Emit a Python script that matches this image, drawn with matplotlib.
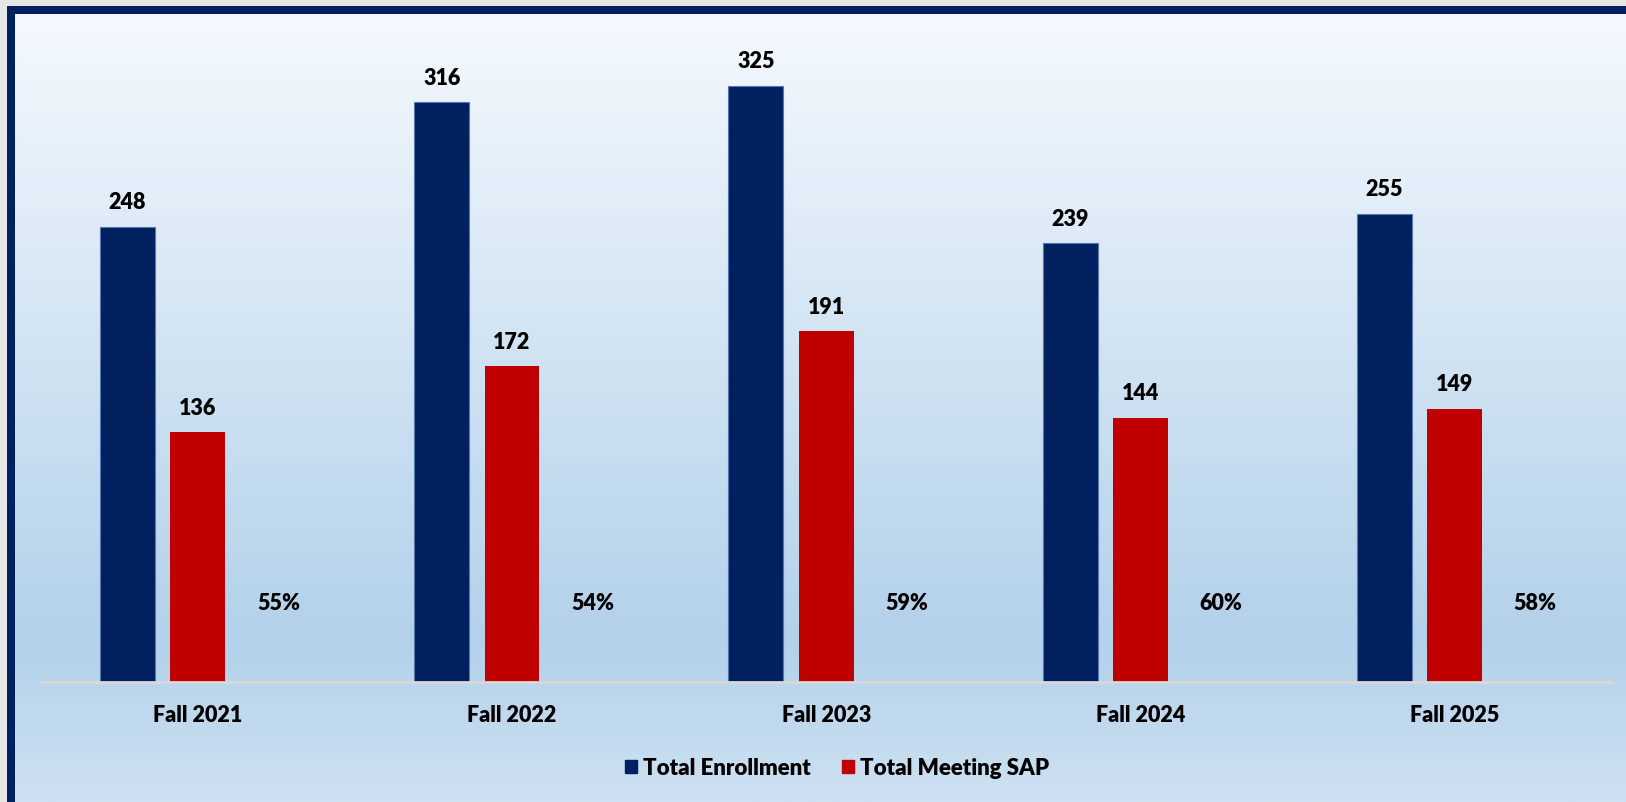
import numpy as np
import matplotlib
matplotlib.use("Agg")
import matplotlib.pyplot as plt
from matplotlib.patches import Rectangle, Patch

# data
terms = ["Fall 2021", "Fall 2022", "Fall 2023", "Fall 2024", "Fall 2025"]
total_enrollment = [248, 316, 325, 239, 255]
total_meeting_sap = [136, 172, 191, 144, 149]
pct_meeting = ["55%", "54%", "59%", "60%", "58%"]

navy = "#002060"
red = "#c00000"
wt = "heavy"

plt.rcParams["font.family"] = ["Lato", "DejaVu Sans"]
plt.rcParams["font.weight"] = wt

W, H = 1626, 803
fig = plt.figure(figsize=(W / 100, H / 100), dpi=100)
fig.patch.set_facecolor("#e6e6e6")

# gradient background
bg = fig.add_axes([0, 0, 1, 1], zorder=-10)
bg.set_axis_off()
t = np.linspace(0, 1, 400)
stops = [0.0, 0.8, 1.0]
cols = np.array([[246, 250, 254], [179, 209, 234], [206, 225, 242]]) / 255.0
grad = np.stack([np.interp(t, stops, cols[:, k]) for k in range(3)], axis=1)
img = np.repeat(grad[:, None, :], 2, axis=1)
bg.imshow(img, aspect="auto", extent=[0, 1, 0, 1], origin="upper")
bg.set_xlim(0, 1)
bg.set_ylim(0, 1)
# grey outer strip and navy frame at the top / left
bg.add_patch(Rectangle((0, 1 - 7 / H), 1, 7 / H, color="#e6e6e6", lw=0))
bg.add_patch(Rectangle((0, 0), 7 / W, 1, color="#e6e6e6", lw=0))
bg.add_patch(Rectangle((7 / W, 1 - 15 / H), 1, 8 / H, color=navy, lw=0))
bg.add_patch(Rectangle((7 / W, 0), 8 / W, 1 - 7 / H, color=navy, lw=0))

ax = fig.add_axes([40.7 / W, (H - 683) / H, 1571 / W, 668 / H])
ax.set_facecolor("none")

x = np.arange(len(terms))
bw = 0.175
off = 0.2237
b1 = ax.bar(x - off, total_enrollment, bw, color=navy, edgecolor="#5877ad", linewidth=0.8,
            label="Total Enrollment")
b2 = ax.bar(x, total_meeting_sap, bw, color=red, label="Total Meeting SAP")

for bars in (b1, b2):
    for r in bars:
        ax.annotate(f"{int(r.get_height())}", (r.get_x() + r.get_width() / 2, r.get_height()),
                    xytext=(0, 10.5), textcoords="offset points", ha="center", va="bottom",
                    fontsize=15.5, fontweight=wt)

for i, p in enumerate(pct_meeting):
    ax.text(x[i] + 0.257, 43.5, p, ha="center", va="center", fontsize=15.5, fontweight=wt)

ax.set_xlim(-0.5, len(terms) - 0.5)
ax.set_ylim(0, 364)
ax.set_yticks([])
for s in ["top", "right", "left"]:
    ax.spines[s].set_visible(False)
ax.spines["bottom"].set_color("#d9d9d9")
ax.spines["bottom"].set_linewidth(2)
ax.set_xticks(x)
ax.set_xticklabels(terms, fontsize=15.5, fontweight=wt)
ax.tick_params(axis="x", length=0, pad=16)

handles = [Patch(color=navy, label="Total Enrollment"), Patch(color=red, label="Total Meeting SAP")]
fig.legend(handles=handles, loc="center", bbox_to_anchor=(837 / W, 1 - 769 / H), ncol=2,
           frameon=False, handlelength=0.55, handleheight=0.55,
           handletextpad=0.25, columnspacing=1.4, prop={"weight": wt, "size": 16})

fig.savefig("out.png", dpi=100)
